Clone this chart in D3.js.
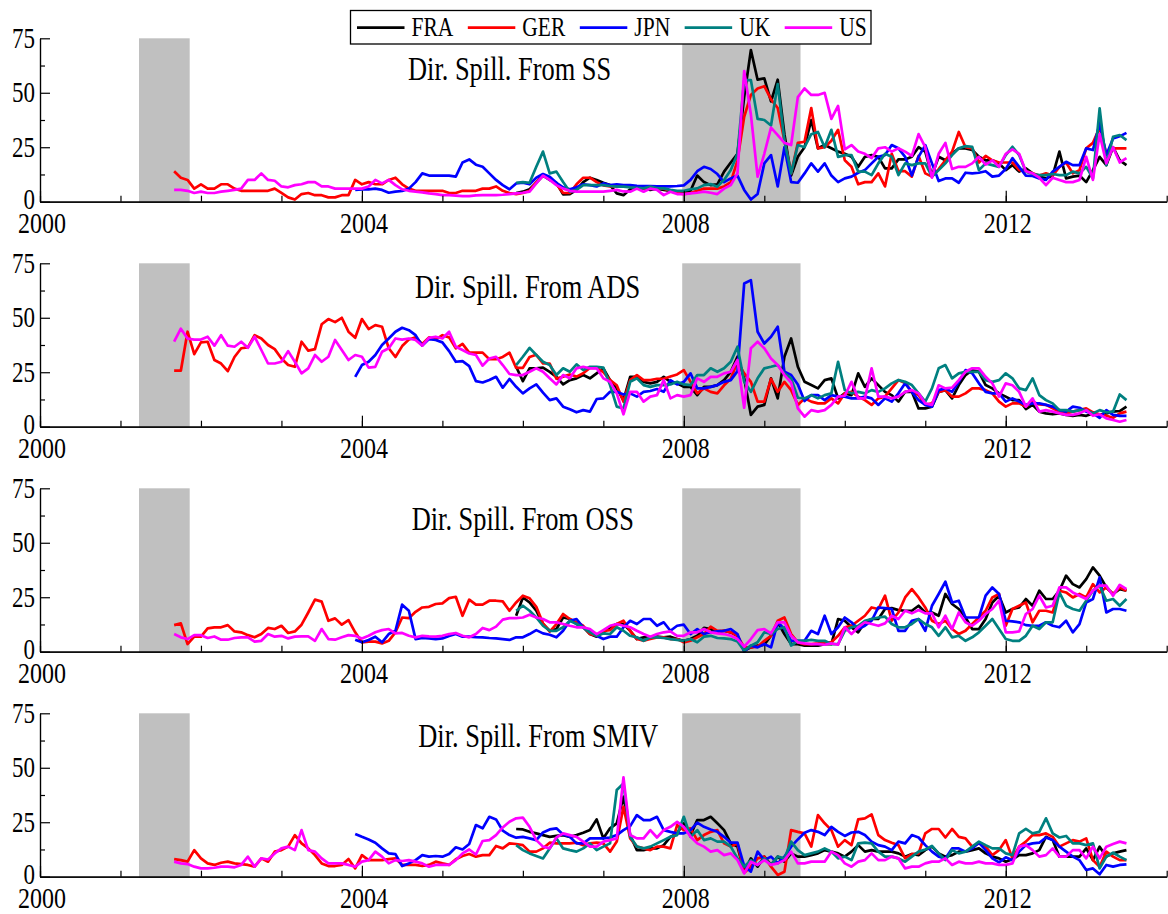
<!DOCTYPE html>
<html><head><meta charset="utf-8">
<script src="https://cdn.jsdelivr.net/npm/d3@7"></script>
<style>body{margin:0;background:#fff}svg{display:block}</style>
</head><body>
<svg id="chart" width="1168" height="914"></svg>
<script>
// ---------------- data ----------------
const countries = ["FRA", "GER", "JPN", "UK", "US"];
const seriesColors = ["#000000", "#ff0000", "#0000ff", "#008080", "#ff00ff"];
const seriesStart = ["2005-12", "2001-09", "2003-12", "2005-12", "2001-09"]; // first monthly observation
const panelTitles = ["Dir. Spill. From SS", "Dir. Spill. From ADS", "Dir. Spill. From OSS", "Dir. Spill. From SMIV"];
const yTickValues = [0, 25, 50, 75];
const yMinorTicks = [12.5, 37.5, 62.5];
const xLabelYears = [2000, 2004, 2008, 2012];
const xAllYears = [2000,2001,2002,2003,2004,2005,2006,2007,2008,2009,2010,2011,2012,2013,2014];
const recessions = [[2001.23, 2001.86], [2007.98, 2009.45]];

const SS_FRA = [4,4.6,5.7,8.7,12,10,8.7,3.4,3.5,5.4,9,11,10,8.7,7.6,3.8,3,5.7,7,6,5.4,6,5.4,5,4,4,5,12,9,7.6,8,13.8,18,22,48,69.6,56,56.6,46,56,31,12,20.6,25,37.5,24.5,26,24.5,23,22,20.6,16,20.6,21.4,20.6,15.3,15.3,19.4,19.4,20.6,25,23,12,20.6,19,22,24.5,24.5,23.7,20.6,19,19,17.6,14.5,16.8,13.8,15.3,13,11.5,10.7,12,23,10.7,11.5,12,9,14.5,20.6,16.8,25,19,16.8];
const SS_GER = [14,11,10,6,8,6,6,8,8,6,5,5,5,5,5,6,4,2,1,3.5,4,3,3,2,2,3,3,10,8,9,8,8,10,11,8,6,5,5,5,5,5,4,4,5,5,5,6,6,7,5,4,3.5,4,5,9,12,11,8,4,4,8,11,11,9,7.5,7,7,7,7,7,6,6,6,6,5,4,3.5,4,5,6,6,6,7,9,19,39,49,52,53,47,43,28,13,27,27.5,43,24.5,25,28,33,19,16,8,9,9,13,7,22,14,14,11.5,21,13,11.5,15,19,23,32,25,24.5,18,21,19,18,18,18,14.5,14,13,12,13,12,16,18,13,14.5,24.5,27,34,22,24.5,24.5,24.5];
const SS_JPN = [5.4,5.7,5.7,6,5.4,4.1,4.6,4.9,6,9,13,12,12,12,12,11.5,18,19.4,17,16,13,10,7.6,5.7,8.4,8.7,8,11,12.7,11.5,8.7,6.6,5.7,6.6,8,7.6,7,8.4,7.6,8,7.6,7.6,7.3,7.2,7.2,7,7,7,7.2,7.5,10,14,16,15,12.7,9,10.7,12,5.4,1,3.5,17.6,21.4,7,25,9,8.7,13,17.6,13.8,17.6,12,9,10.7,11.5,13.3,14.5,17.6,20.6,21.4,26,24.5,20.6,12,20.6,26,17.6,9.5,10.7,10.7,8.7,13.3,13,13.3,14,11.5,12,15,20,16,12,11.8,10.7,10,13.8,16,18.3,16.8,16.8,24.5,23.7,36,21.4,29,30,31.6];
const SS_UK = [8.7,9,8.7,16,23,13,13.8,9,4.6,5.4,7.6,7.6,7.6,7.6,7.2,6.9,6.9,6.6,6.4,6.1,6.9,6.1,6.1,5.4,5,5,5.7,6.1,7.6,8.1,6.9,10,14.5,22,55.8,55.8,38,37.5,35,54,28,13,26,25,31,32,25,33,20.6,21.4,21.4,13.8,13.8,12.2,17.6,22,20.6,12.2,17.6,16.8,17.6,17.6,11.5,14.5,17.6,21.4,24.5,25.5,25.2,14.5,17.6,16.8,16,21.4,25.2,21.4,13.8,12.7,12.2,12.2,12.7,12.2,12.2,13.8,13,16,10.7,42.8,16.8,29.8,30.6,28.3];
const SS_US = [5.4,5.4,5,4,4.6,4,4,4.6,5,5.4,6,10,10,13,10,9.6,7,6.6,7.6,8,9,9,7,7,6,6,6,6,6,7,10,8.4,10,7.6,5.7,5,4.6,4.3,3.8,3.5,3,3,2.8,2.6,2.6,2.9,3,3,3,3.2,3.5,3.8,4.1,4.6,8.4,12,10,7.6,6,5,4.6,4.6,4.6,4.6,4.6,5,5.4,4.7,4.6,6,4.6,6,5.4,3,4.6,3.5,3.5,3.8,4.1,4.6,4.1,3.5,6,7.6,13,60,40,11.5,22,34,30.6,27,26,48,52,49,49,50,38,44,24,26,23,22,20,24.5,25,23,24.5,23,21,31,25,11,22,27,15,16,16,17.6,20.6,17,19,16,22,24,22,14,13,11,7.6,11,10,9,9,10,20.6,10,31,17.6,25,18,20];

const ADS_FRA = [27.5,20.9,26.8,26.8,27.1,25.2,22.9,19.4,21.4,22.2,23.7,22.2,24.5,26.8,21.4,17.6,12.2,22.9,22.9,20.6,19.9,20.6,22.9,20.6,19.9,18.3,18.3,14.5,18.3,18.3,19.1,21.4,25.2,32.1,22.2,5.4,9.2,10,22.2,13,32.1,40.5,27.5,20.6,19.1,17.6,21.4,22.2,13,15.3,14.5,24.5,18.3,22.2,19.1,16,14.5,11.5,16,16,8.4,8.4,9.2,16,16.8,13,19.1,23.7,26,25.2,19.1,17.6,15.3,13.8,12.2,12.2,8.1,10,6.9,6.1,5.7,6.1,5.4,5,5.4,5,6.1,5.4,6.1,6.9,7.2,9.2];
const ADS_GER = [25.7,25.7,43.6,33.3,38.7,39,30.6,29,25.5,32,36,36.4,42,40.5,37.5,35.6,31.3,28.3,27.5,39,34.9,35.6,47,49.4,48,50,43.6,40.8,49.4,44.8,46.6,45.9,36,32,37,40,41,38,41,40,42,41,36,38,34,34,34,31,31,32,34,27,27,32,33,29,29,22,23,24,23,24.5,27,27,25,21.4,19,11.5,21.4,23.7,21.4,21.4,22,22,23,24,26,20.6,15.3,17.6,16,15.3,19,22,29.8,24.5,20.6,11.5,11.5,22,16,20.6,16.8,10,13,11.5,10.7,10.7,13,10.7,15.3,16,13.8,12.2,10,13,13.8,17.6,21.4,20,16,14.5,10,10.7,16,16.8,13.8,13.8,15.3,17.6,17.6,16.8,15.3,11.5,9.2,10.7,10.7,9.2,11.5,10.2,10,8.4,6.9,6.1,6.9,7.6,8.4,6.6,5.7,5,4.1,6.1,6.9];
const ADS_JPN = [22.9,28.3,29.8,32.9,37.5,40.5,43.6,45.4,44.3,42,37.2,40.2,39.8,38.7,34.7,29.8,30.1,27.8,20.9,20.3,21.4,22.9,17.9,21.9,18.3,15.3,17.6,19.4,15.6,12.2,13,9.2,8,6.6,7.6,6.9,12.7,13,16,16,14.8,15.3,13.8,16,16.4,17.3,16,21.4,19.4,20.6,24.5,17.6,17.6,18.3,19.1,20.6,21.4,25.5,65.7,67.3,43.6,38.2,41.3,45.9,25.2,23.7,19.4,11.8,14.5,14.5,12.2,14.5,13.8,13.8,13,13,13.8,13,10,13,11.5,15.3,19.9,16,12.2,10,9.2,16.8,17.6,16,20.6,26,24.5,19.9,16,15.3,15.3,11.5,13,11.5,10,10.7,10.7,10,9.2,7.6,6.9,9.2,8.7,6.9,6.1,4.1,7.6,5.4,5,5];
const ADS_UK = [28.3,32.1,36.2,32.9,29.8,28.3,23.7,26.8,25.2,28.6,26,27.5,27.5,27.1,19.1,9.2,8.4,20.6,22.2,19.1,18.3,19.1,19.1,19.4,20.6,19.4,19.1,23.7,23.7,26.8,25.2,26.8,29.8,36.7,20.6,16,22.2,26.8,27.5,28.3,24.5,22.2,13.3,13,14.5,13,14.5,15.3,29.8,16.8,15.3,16,15.3,16.8,16,17.6,19.9,21.4,20.6,19.1,15.3,11.5,17.6,26.8,28.3,22.2,24.5,25.2,25.2,25.2,21.4,20.6,21.4,24.5,22.2,17.6,16.8,22.2,14.5,12.2,10.7,7.6,7.6,6.9,7.6,7.6,6.1,7.6,6.6,6.9,14.8,12.2];
const ADS_US = [39,45,40.5,40,40,41.3,37.2,42,37.2,36.7,39,36.2,41.3,35.2,29,29,29.8,34.7,29.8,24.5,26.8,32.9,29.8,32.1,39.8,35.2,30.6,32.9,32.1,27.1,27.5,34.4,36,40.5,40,40.5,39.8,37.2,40.8,41.3,40.5,43.6,36.7,35.2,33.6,32.9,28,31.3,32.1,28.3,24.2,23.7,23.7,25.2,26.8,25.2,22.2,19.4,23.7,22.2,26.8,27.5,26.8,26.8,22.2,20.6,15.3,5.7,16,16,11.5,13.8,14.5,21.4,13,14.5,13.8,14.5,22.2,20.6,22.9,22.9,24.5,25.2,30.6,8.7,36,39,36,31.3,28.3,23.7,20.3,8.4,4.6,7.6,6.9,7.6,10,13.8,14.2,20.6,13,13,26.8,13.8,13.8,13,13.8,16,16.8,15.3,10.7,10,19,17.6,17.9,21.4,25.2,26.8,26.8,22.9,19.9,13.8,19.9,19,16,9.2,13,6.9,7.6,6.9,6.1,5.4,5.4,6.1,7.6,5,5.7,3.8,3.1,2.3,3.1];

const OSS_FRA = [16.5,24.9,22.6,18.8,12.7,9.6,10.4,15.7,15,12.7,11.2,8.1,6.9,8.9,11.2,12.7,12.7,9.6,5.8,6.6,6.6,6.9,6.6,6.9,5.8,5,5.8,7.3,10.9,10.4,8.9,9.6,8.9,7.3,0.5,2,2.8,3.2,7.3,13.5,8.1,3.5,3.5,2.8,2.8,2.8,3.5,3.5,15,14.2,11.2,8.9,13.5,15,15,19.6,20,19.1,18.8,18.8,21.1,18,18,16.5,26.5,21.9,19.6,15.7,10.4,10.4,15,22.6,25.7,18,19.6,20.3,24.2,21.1,28,24.2,24.2,28,34.9,31,29.5,33.3,38.7,34.9,29.5,26.5,28.7,28];
const OSS_GER = [12.2,13,3.5,6.9,6.9,10.7,11.2,11.2,12.2,9.3,8.9,7.6,6.6,8.1,10.9,10.4,11.9,8.6,9.3,12.4,18,23.9,23,14.2,15.3,12.4,14.5,8.9,4.3,4.6,4.6,3.8,5,8.9,15.7,15.4,18.3,20.3,20.6,21.9,22.2,24.6,25.2,16.5,23.9,21.6,21.6,23.4,23.4,23.1,18.8,22.6,25.7,24.5,20.6,13,9.2,12.7,17.3,15,13.5,11.9,8.1,7.3,9.6,9.9,12.7,14.2,9.6,5.8,5,5.8,6.6,6.6,5.8,5.8,4.3,5,6.6,8.1,11.5,9.6,9.6,8.9,7.3,2,2,2.3,5,7.3,14.2,15.7,8.1,4.3,3.5,3.5,3.8,4.3,4.3,7.3,11.2,11.9,14.2,16.5,20.3,19.6,25.7,14.2,18,24.9,28.7,24.9,20.3,14.2,12.7,14.2,10.4,8.1,9.6,12.7,15.7,18.8,24.9,26.5,11.9,19.6,21.1,22.6,13.5,18.8,18.8,18,28,27.2,24.9,26.5,24.9,31,27.2,29.5,26.5,29.5,28];
const OSS_JPN = [5.5,4.3,5.4,6.9,4.3,8.1,9.6,21.6,18.8,5.8,6.3,6.1,5.8,6.1,7.2,8.1,6.9,6.9,6.7,6.6,6.3,6.1,5.8,5.4,6.6,6.6,8.1,9.9,8.4,7.8,6.6,9.6,14.2,15,11.2,9.6,7.3,5.8,6.9,6.9,11.2,14.2,12.7,15,15,11.9,13.5,9.6,11.9,12.4,8.1,10.4,8.1,8.9,9.3,9.6,10.4,8.1,0,2.8,2,3.5,2,13.5,10.4,5,5,5,9.6,8.1,16.5,8.1,11.2,15.7,13.5,10.4,11.9,14.2,20.3,20,19.6,9.6,9.6,14.2,15,9.6,21.1,26.5,32.1,22.6,23.4,15.7,15.7,15.7,25.7,29.5,26.5,14.2,13.9,13.5,12.2,11.9,11.9,13.5,11.9,11.2,14.2,8.9,12.7,22.6,24.2,34.1,18,19.6,19.6,18.8];
const OSS_UK = [18.8,21.1,18.8,15.7,11.9,9.6,9.6,11.2,14.2,12.7,11.2,8.9,7.3,8.4,8.1,11.2,9.6,7.3,6.6,5,6.6,6.6,6.3,5.8,5.4,5,5.8,4.3,6.9,7.3,6.3,6.1,5.8,4.7,0.5,2.8,4.3,8.9,8.1,10.4,11.2,2.8,5,5,5.4,5,5,3.5,3.5,9.6,11.2,11.9,14.2,15,15.7,16.1,12.7,11.2,11.2,12.7,15,12.7,11.2,7.3,11.2,6.6,7.3,5,6.6,8.9,11.9,15,10.4,5.8,5,5,7.3,11.9,10.4,13.5,13.5,27.2,21.1,19.6,18.8,23.4,28,30.3,23.4,24.2,21.1,24.2];
const OSS_US = [8.1,6.6,5.8,7.6,7.6,6.3,7,5.5,5.5,6.3,6.6,6.6,4.6,5,8.1,6.9,7.3,6.1,6.9,7,7,5,10.4,5.8,5.5,6.6,7.6,7.3,6.1,7.3,8.9,9.9,10.4,8.4,8.6,7.3,6.6,7.3,7,6.9,7.3,8.1,8.6,7.3,6.6,8.1,10.9,9.9,11.5,14.7,15.4,15.4,15.7,17,15.7,15,13.5,13.5,12.7,11.9,11.2,11.2,10.4,8.1,9.9,11.9,12.7,11.9,11.2,9.6,8.1,6.9,8.1,8.9,9.3,7.3,7.3,8.9,8.9,10.4,8.9,8.4,8.1,7.3,5.8,2.3,5.8,9.9,10.4,8.4,13.5,13.5,7.3,4.3,3.8,3.5,3.5,3.2,3.8,3.2,11.2,8.1,11.2,13.5,12.7,11.9,13,16.5,15,18.8,17.6,19.1,17.6,17.6,11.2,16.5,10.4,18,13.5,11.9,14.2,17.3,19.6,23.4,8.9,8.9,9.3,17.3,19.6,25.7,20.3,21.1,29.5,29.5,27.2,25.7,24.2,28,30.3,30.3,25.7,30.7,28.7];

const SMIV_FRA = [21.9,21.7,20.6,19.9,19.1,18.3,18.7,19.1,18.3,19.1,20.2,21.4,26.3,17.6,22.2,24.5,36.7,19.1,12.2,12.2,13,13,14.5,18.3,19.9,24.5,19.1,26,26,27.5,24.5,21.4,15.3,13.8,2.3,8.4,4.6,9.2,5.4,9.2,6.9,10.7,9.2,9.2,9.9,10.7,12.2,11.5,10.7,9.2,11.5,14.5,11.5,12.2,11.5,11.5,11.5,10.7,9.2,10.4,9.9,12.2,13.8,10.7,9.2,9.9,11.5,11.5,12.2,13,10.7,9.2,8.4,6.9,8,9.9,9.9,10.7,12.2,18.3,16.8,9.2,9.2,9.2,9.2,13,7.6,13.8,9.2,10.7,11.5,12.2];
const SMIV_GER = [8.1,7.6,6.9,12.2,8.4,6.1,5.4,6.4,6.9,6.1,5.8,5.4,4.6,8.4,6.9,11.5,12.2,13.8,19.1,15.3,13,9.9,6.1,4.9,4.9,5.4,8.1,3.8,9.9,7.6,7.6,7.6,8.1,8.4,5.4,5.4,5.4,4.9,5.4,6.9,6.1,5.4,8,9.5,10.4,9.2,9.9,9.9,14.1,13,15.3,15,14.5,11.5,11.5,13,15.6,15.3,15.3,15.3,15.6,14.5,15.3,15.6,15.3,11.5,16.1,32.1,17.6,13.8,13,12.2,13.8,13.8,13,23.7,21.4,22.2,16.8,19.1,20.6,21.4,15.3,13.8,15.3,1.8,4.6,8.4,9.2,4.6,0.8,2.3,21.4,20.6,19.9,13.8,28.3,24.5,21.4,13.8,16.8,14.5,26.3,26.8,28.6,19.1,16.8,15.6,14.5,8.4,10.4,10.7,19.9,21.9,21.9,18,21.9,18.3,17.6,13.8,15.3,13.8,9.9,12.2,16.8,8.4,13.8,16.1,19.1,19.1,19.9,18.3,13.8,15.3,16.8,16.1,17.6,7.6,4.6,11.5,9.2,7.6,7.6];
const SMIV_JPN = [19.6,18.3,17.1,15.6,13,10.7,10.4,4.9,6.1,7.6,9.9,9.2,9.5,9.2,10.4,13.5,12.5,15,23.7,22.2,27.5,26.3,21.1,19.1,17.9,18.3,17.6,16.8,20.3,21.7,22.2,19.4,18.3,15.3,15.3,17.6,17.6,17.6,18,19.1,21.4,23.2,28.3,26,26,27.5,21.4,20.6,19.9,19.9,21.4,24.8,22.9,21.7,20.6,18.3,15.6,15.6,4.9,2.3,11.5,7.6,9.2,6.1,9.2,13.8,17.1,20.2,21.4,20.6,19.1,22.9,20.6,18.7,20.3,20.6,19.1,16.1,14.5,13.8,12.2,16.1,15.3,19.1,18,14.5,11.5,9.2,8.4,13,13,11.5,13,15.6,12.2,8.4,6.6,8.9,7.6,11.5,14.5,15.3,15.6,18,16.8,13.8,11.5,9.2,7.6,3.1,3.8,1.1,5.4,4.6,5.4,5.7];
const SMIV_UK = [14.5,12.2,10.7,9.5,8.4,13,17.6,13,12.2,11.5,13,15.3,12.2,13.8,15.3,39.8,42.8,18.3,13.8,13,13.8,15.3,16.8,18.3,19.1,27.5,18.3,21.4,16.8,17.6,16.1,16.1,13.8,8.4,4.6,7.6,5.4,8.4,5.4,9.2,8.4,16.1,12.2,9.9,10.7,11.5,13,11.5,8.4,9.2,7.6,15.3,15.6,15.3,11.5,9.2,9.2,8.4,6.9,9.2,11.5,12.5,14.1,10.7,7.6,12.2,10.7,11.5,13.8,16.1,14.5,13,13,10.7,9.9,19.9,21.9,19.9,20.6,26.8,19.9,18,18.7,15.3,15.3,14.5,15.3,3.8,9.2,11,9.2,7.6];
const SMIV_US = [6.9,6.1,5.8,4.6,3.8,3.8,4.1,4.6,4.6,4.3,5.4,9.2,4.6,8.4,7.9,10.7,13,13.8,12.2,21.4,12.2,11.5,8.4,6.1,6.1,6.1,5.4,4.6,6.9,7.6,11.5,9.2,6.1,7.6,7.2,7.6,6.9,6.1,4.6,5.4,5.4,5.4,7.6,10.7,12.5,10.2,16.4,16.8,19.1,22.6,25.2,26.8,27.1,22.9,16.8,13.8,13,18,19.9,19.1,18.3,16.1,13.8,13.8,16.1,16.8,17.6,45.6,19.1,17.6,17.6,21.4,18,21.4,22.9,25.2,22.9,18.3,15.3,13.8,11.5,12.2,9.9,10.7,7.6,1.5,6.9,5.4,7.6,5.4,6.1,7.6,11.5,6.1,6.1,6.9,6.9,6.9,11.5,9.9,6.1,4.6,6.9,7.6,10.7,7.6,7.6,9.2,8.4,3.8,4.6,4.6,6.1,6.9,6.9,8.4,5.4,6.9,6.1,6.1,6.9,6.1,6.1,5.4,5.4,6.1,13.8,14.5,12.2,9.2,9.9,13,9.2,9.2,12.2,12.2,8.4,13.8,8.4,13.8,15,16.1,15.3];

const panelSeries = [
  [SS_FRA, SS_GER, SS_JPN, SS_UK, SS_US],
  [ADS_FRA, ADS_GER, ADS_JPN, ADS_UK, ADS_US],
  [OSS_FRA, OSS_GER, OSS_JPN, OSS_UK, OSS_US],
  [SMIV_FRA, SMIV_GER, SMIV_JPN, SMIV_UK, SMIV_US]
];

// ---------------- layout ----------------
const FONT = "'Liberation Serif','Times New Roman',Times,serif";
const SY = 1.25;               // vertical stretch of the original figure's text
const PANEL_STEP = 225;
const PLOT_TOP = 38.3, PLOT_H = 163.4;
const titleOffsets = [[408, 41.7], [415, 35], [411.7, 41.7], [418.3, 33.6]];

const svg = d3.select("#chart");
const x = d3.scaleLinear().domain([2000, 2014]).range([40, 1166.7]);
const toYear = s => { const [yy, mm] = s.split("-").map(Number); return yy + (mm - 1) / 12; };

function stretchedText(g, px, py, txt, size, anchor) {
  return g.append("text")
    .attr("transform", `translate(${px},${py}) scale(1,${SY})`)
    .attr("text-anchor", anchor)
    .attr("font-family", FONT)
    .attr("font-size", size)
    .attr("fill", "#000")
    .text(txt);
}

panelSeries.forEach((series, i) => {
  const top = PLOT_TOP + PANEL_STEP * i;
  const y = d3.scaleLinear().domain([0, 75]).range([top + PLOT_H, top]);
  const g = svg.append("g");

  // recession shading
  g.selectAll("rect.rec").data(recessions).enter().append("rect")
    .attr("x", d => x(d[0])).attr("width", d => x(d[1]) - x(d[0]))
    .attr("y", y(75)).attr("height", y(0) - y(75) + 1)
    .attr("fill", "#c0c0c0");

  // series lines
  const line = d3.line().x(d => x(d[0])).y(d => y(d[1]));
  series.forEach((vals, k) => {
    const st = toYear(seriesStart[k]);
    const pts = vals.map((v, j) => [st + j / 12, v]);
    g.append("path").datum(pts)
      .attr("d", line)
      .attr("fill", "none")
      .attr("stroke", seriesColors[k])
      .attr("stroke-width", 2.7)
      .attr("stroke-linejoin", "round");
  });

  // y axis (ticks pointing inward)
  const yMinor = g.append("g").attr("transform", `translate(${x(2000)},0)`)
    .call(d3.axisLeft(y).tickValues(yMinorTicks).tickSizeInner(-5).tickSizeOuter(0).tickFormat(""));
  const yMajor = g.append("g").attr("transform", `translate(${x(2000)},0)`)
    .call(d3.axisLeft(y).tickValues(yTickValues).tickSizeInner(-10).tickSizeOuter(0).tickFormat(""));
  // x axis
  const xMinor = g.append("g").attr("transform", `translate(0,${y(0)})`)
    .call(d3.axisBottom(x).tickValues(xAllYears).tickSizeInner(-6).tickSizeOuter(0).tickFormat(""));
  const xMajor = g.append("g").attr("transform", `translate(0,${y(0)})`)
    .call(d3.axisBottom(x).tickValues(xLabelYears).tickSizeInner(-11).tickSizeOuter(0).tickFormat(""));
  [yMinor, yMajor, xMinor, xMajor].forEach(a => {
    a.selectAll("path,line").attr("stroke", "#000").attr("stroke-width", 1.2);
  });

  // tick labels
  yTickValues.forEach(v => stretchedText(g, 35, y(v) + (v === 0 ? 7.5 : 9.5), String(v), 23, "end"));
  xLabelYears.forEach(v => stretchedText(g, x(v) + 2, y(0) + 31, String(v), 24, "middle"));

  // panel title
  stretchedText(g, titleOffsets[i][0], top + titleOffsets[i][1], panelTitles[i], 26.4, "start");
});

// ---------------- legend ----------------
const lg = svg.append("g");
lg.append("rect").attr("x", 350.5).attr("y", 10.5).attr("width", 520.5).attr("height", 33.5)
  .attr("fill", "#fff").attr("stroke", "#000").attr("stroke-width", 1.3);
let lx = 357;
countries.forEach((c, k) => {
  lg.append("line").attr("x1", lx).attr("x2", lx + 47.5).attr("y1", 27.7).attr("y2", 27.7)
    .attr("stroke", seriesColors[k]).attr("stroke-width", 2.8);
  const t = stretchedText(lg, lx + 54.5, 36, c, 21.5, "start");
  const w = t.node().getComputedTextLength();
  lx += 54.5 + w + 14.5;
});
</script>
</body></html>
